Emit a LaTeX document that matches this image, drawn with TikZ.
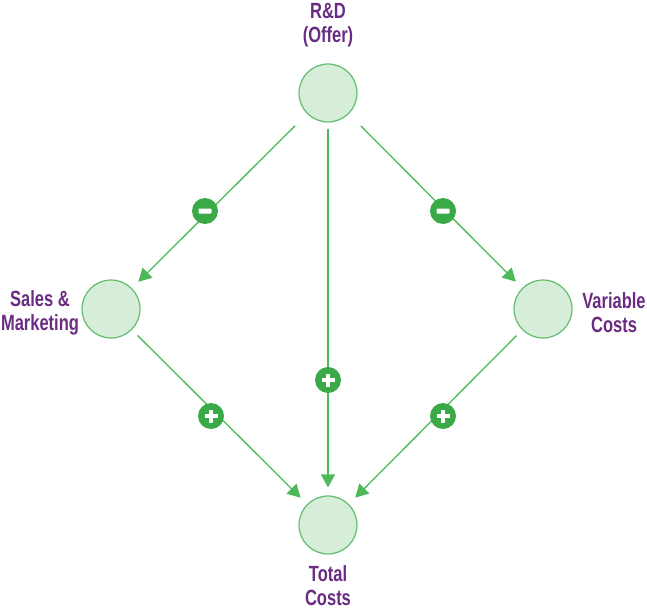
\documentclass[tikz,border=0pt]{standalone}
\usepackage{fontspec}
\setmainfont{Liberation Sans}[FakeStretch=0.75]
\usetikzlibrary{arrows.meta}
\definecolor{cfill}{HTML}{D6EDD9}
\definecolor{cborder}{HTML}{62BE6D}
\definecolor{lgreen}{HTML}{4DB85A}
\definecolor{bgreen}{HTML}{3AAA48}
\definecolor{purp}{HTML}{6A2C82}
\tikzset{
  var/.style={circle, draw=cborder, fill=cfill, line width=1.2pt, minimum size=58pt, inner sep=0pt},
  lbl/.style={text=purp, align=center, font=\fontsize{22}{24}\selectfont\bfseries, inner sep=0pt},
  conn/.style={draw=lgreen, line width=1.3pt, -{Triangle[length=13pt,width=14pt]}},
  badge/.style={circle, fill=bgreen, minimum size=26pt, inner sep=0pt},
  bminus/.style={badge, path picture={\fill[white,rounded corners=0.8pt] ([shift={(-6.5pt,-2.5pt)}]path picture bounding box.center) rectangle ([shift={(6.5pt,2.5pt)}]path picture bounding box.center);}},
  bplus/.style={badge, path picture={
     \fill[white] ([shift={(-6.5pt,-2.2pt)}]path picture bounding box.center) rectangle ([shift={(6.5pt,2.2pt)}]path picture bounding box.center);
     \fill[white] ([shift={(-2.2pt,-6.5pt)}]path picture bounding box.center) rectangle ([shift={(2.2pt,6.5pt)}]path picture bounding box.center);}}
}
\begin{document}
\begin{tikzpicture}[x=1pt,y=-1pt]
\useasboundingbox (0,0) rectangle (647,613);
\node[var] (rd) at (328,93) {};
\node[var] (sm) at (111,309) {};
\node[var] (vc) at (543,309) {};
\node[var] (tc) at (328,525) {};
\node[lbl] (rdl) at (328,25) {R\&D\\(Offer)};
\node[lbl] (sml) at (40,313) {Sales \&\\Marketing};
\node[lbl] (vcl) at (614,313) {Variable\\Costs};
\node[lbl] (tcl) at (328,586) {Total\\Costs};
\draw[conn, shorten <=17pt, shorten >=9pt] (rd) -- (sm);
\draw[conn, shorten <=17pt, shorten >=9pt] (rd) -- (vc);
\draw[conn, shorten <=6pt, shorten >=8pt] (rd) -- (tc);
\draw[conn, shorten <=8pt, shorten >=9pt] (sm) -- (tc);
\draw[conn, shorten <=8pt, shorten >=9pt] (vc) -- (tc);
\node[bminus] (m1) at (205,211) {};
\node[bminus] (m2) at (443,211) {};
\node[bplus] (p1) at (328,380) {};
\node[bplus] (p2) at (211,416) {};
\node[bplus] (p3) at (443,416) {};
\end{tikzpicture}
\end{document}
